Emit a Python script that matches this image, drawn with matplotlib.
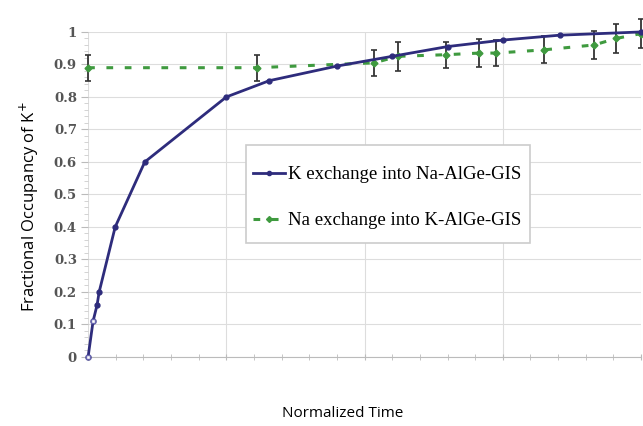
import matplotlib.pyplot as plt
from matplotlib.ticker import MultipleLocator
from matplotlib.lines import Line2D
from matplotlib.patches import Rectangle

# K exchange into Na-AlGe-GIS
k_time = [0, 0.036, 0.065, 0.08, 0.196, 0.41, 1.0, 1.31, 1.80, 2.20, 2.60, 3.0, 3.41, 4.0]
k_occ = [0, 0.11, 0.16, 0.20, 0.40, 0.60, 0.80, 0.85, 0.895, 0.925, 0.955, 0.975, 0.99, 1.0]
k_open = 2  # first points drawn as open markers

# Na exchange into K-AlGe-GIS
na_time = [0, 1.22, 2.07, 2.24, 2.59, 2.83, 2.95, 3.30, 3.66, 3.82, 4.0]
na_occ = [0.89, 0.89, 0.905, 0.925, 0.93, 0.935, 0.935, 0.945, 0.96, 0.98, 0.995]
na_err = [0.04, 0.04, 0.04, 0.045, 0.04, 0.043, 0.04, 0.042, 0.042, 0.045, 0.045]

y_ticks = [0, 0.1, 0.2, 0.3, 0.4, 0.5, 0.6, 0.7, 0.8, 0.9, 1]
y_labels = ["0", "0.1", "0.2", "0.3", "0.4", "0.5", "0.6", "0.7", "0.8", "0.9", "1"]

k_name = "K exchange into Na-AlGe-GIS"
na_name = "Na exchange into K-AlGe-GIS"

blue = "#2e2c7c"
green = "#3f9a3f"
na_ls = (0, (2.2, 3.8))

fig = plt.figure(figsize=(6.43, 4.26), dpi=100)
ax = fig.add_axes([0.137, 0.162, 0.860, 0.763])

ax.errorbar(na_time, na_occ, yerr=na_err, color=green, lw=2.2, ls=na_ls,
            marker="D", ms=3.5, ecolor="#333333", elinewidth=1.3, capsize=2.5,
            capthick=1.2, clip_on=False, zorder=3)
ax.plot(k_time, k_occ, color=blue, lw=2, marker="o", ms=3.5, clip_on=False, zorder=4)
ax.plot(k_time[:k_open], k_occ[:k_open], ls="none", marker="s", ms=3.5,
        mfc="white", mec="#6a68b0", clip_on=False, zorder=5)

ax.set_xlim(0, 4)
ax.set_ylim(0, 1)
ax.xaxis.set_major_locator(MultipleLocator(1))
ax.xaxis.set_minor_locator(MultipleLocator(0.2))
ax.set_yticks(y_ticks)
ax.set_yticklabels(y_labels, family="DejaVu Serif", fontweight="bold",
                   fontsize=9.5, color="#555555")
ax.yaxis.set_minor_locator(MultipleLocator(0.02))
ax.set_xticklabels([])
ax.grid(True, which="major", color="#dddddd", lw=0.8)
ax.tick_params(axis="y", which="major", length=5, color="#bbbbbb", pad=3)
ax.tick_params(axis="y", which="minor", length=3, color="#cccccc")
ax.tick_params(axis="x", which="both", direction="inout", length=4, color="#bbbbbb")
for s in ["top", "right", "left"]:
    ax.spines[s].set_visible(False)
ax.spines["bottom"].set_color("#bbbbbb")

# legend box drawn separately (the original has wide top/bottom padding)
fig.patches.append(Rectangle((0.3826, 0.4296), 0.4417, 0.230, transform=fig.transFigure,
                             facecolor="white", edgecolor="#cccccc", lw=1.2, zorder=6))
handles = [Line2D([], [], color=blue, lw=2, marker="o", ms=3),
           Line2D([], [], color=green, lw=2.2, ls=na_ls, marker="D", ms=3)]
fig.legend(handles, [k_name, na_name], loc="center left",
           bbox_to_anchor=(0.393, 0.536), bbox_transform=fig.transFigure,
           prop={"family": "Liberation Serif", "size": 13.5}, frameon=False,
           labelspacing=1.55, handlelength=1.7, handletextpad=0.2,
           borderpad=0, borderaxespad=0).set_zorder(7)

fig.text(0.045, 0.516, "Fractional Occupancy of K$^{+}$", rotation=90, ha="center",
         va="center", family="Open Sans", fontsize=12)
fig.text(0.533, 0.03, "Normalized Time", ha="center", va="center",
         family="Open Sans", fontsize=11)

fig.savefig("out.png", dpi=100)
